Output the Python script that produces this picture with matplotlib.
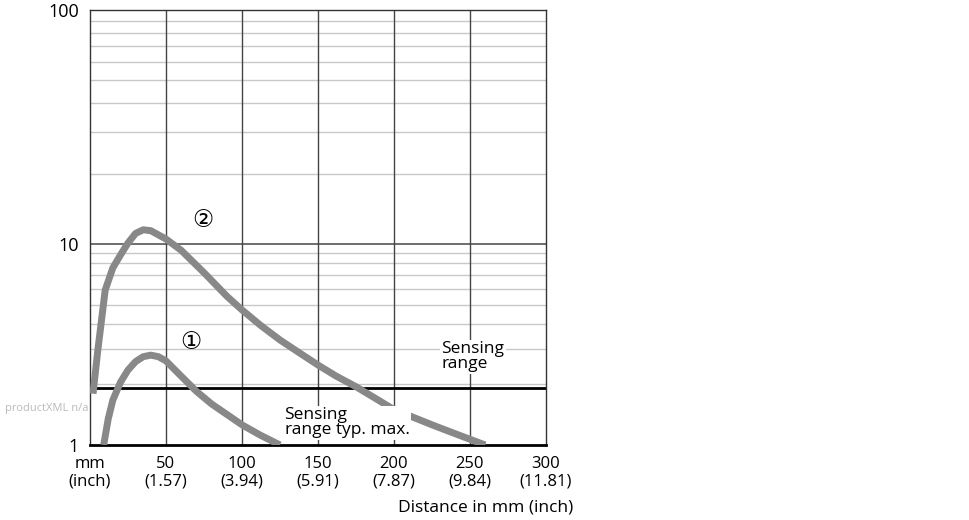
import numpy as np
import matplotlib
matplotlib.use("Agg")
import matplotlib.pyplot as plt

plt.rcParams["font.family"] = "Open Sans"

# curve data (distance mm, value)
x_curve2 = [2, 5, 10, 15, 20, 25, 30, 35, 40, 50, 60, 75, 90, 100, 112, 125, 137, 150, 162, 175, 187, 200, 212, 225, 240, 260]
y_curve2 = [1.8, 2.9, 5.9, 7.6, 8.8, 10.1, 11.1, 11.5, 11.4, 10.5, 9.3, 7.2, 5.5, 4.7, 3.95, 3.33, 2.9, 2.5, 2.2, 1.95, 1.72, 1.5, 1.38, 1.26, 1.14, 1.0]
x_curve1 = [9, 12, 15, 20, 25, 30, 35, 40, 45, 50, 60, 70, 80, 90, 100, 112, 125]
y_curve1 = [1.0, 1.35, 1.67, 2.05, 2.36, 2.6, 2.75, 2.8, 2.75, 2.62, 2.2, 1.85, 1.6, 1.42, 1.26, 1.12, 1.0]
sensing_range = 1.92

x_ticks = [0, 50, 100, 150, 200, 250, 300]
x_labels = ["mm\n(inch)", "50\n(1.57)", "100\n(3.94)", "150\n(5.91)", "200\n(7.87)", "250\n(9.84)", "300\n(11.81)"]
y_ticks = [1, 10, 100]


def fwd(v):
    lv = np.log10(np.clip(v, 1e-6, None))
    return np.where(lv <= 1, lv * 201.0, 201.0 + (lv - 1) * 234.0)


def inv(u):
    u = np.asarray(u, dtype=float)
    return np.where(u <= 201, 10 ** (u / 201.0), 10 ** (1 + (u - 201.0) / 234.0))


fig = plt.figure(figsize=(9.7, 5.2), dpi=100)
ax = fig.add_axes([90 / 970, 1 - 445 / 520, 456 / 970, 435 / 520])
ax.set_yscale("function", functions=(fwd, inv))
ax.set_xlim(0, 300)
ax.set_ylim(1, 100)

minors = [m * d for d in (1, 10) for m in range(2, 10)]
for v in minors:
    ax.axhline(v, color="#c8c8c8", lw=1, zorder=1)
ax.axhline(10, color="#555555", lw=1.2, zorder=1)
for v in x_ticks[1:-1]:
    ax.axvline(v, color="#444444", lw=1, zorder=1)

ax.axhline(sensing_range, color="black", lw=2, zorder=2)
ax.plot(x_curve2, y_curve2, color="#888888", lw=5, solid_capstyle="butt", zorder=3)
ax.plot(x_curve1, y_curve1, color="#888888", lw=5, solid_capstyle="butt", zorder=3)

ax.set_xticks(x_ticks)
ax.set_xticklabels(x_labels, fontsize=12, linespacing=1.1)
ax.set_yticks(y_ticks)
ax.set_yticklabels(["1", "10", "100"], fontsize=13)
ax.yaxis.set_minor_locator(matplotlib.ticker.NullLocator())
ax.tick_params(length=0, pad=8)
for s in ax.spines.values():
    s.set_color("#333333")
    s.set_linewidth(1)
ax.spines["bottom"].set_color("black")
ax.spines["bottom"].set_linewidth(2)

ax.text(74, 12.7, "②", fontsize=17, ha="center", va="center", font="DejaVu Sans")
ax.text(66, 3.25, "①", fontsize=17, ha="center", va="center", font="DejaVu Sans")
ax.text(231, 2.75, "Sensing\nrange", fontsize=12.5, ha="left", va="center", linespacing=0.95,
        bbox=dict(fc="white", ec="none", pad=1))
ax.text(128, 1.29, "Sensing\nrange typ. max.", fontsize=12.5, ha="left", va="center", linespacing=0.95,
        bbox=dict(fc="white", ec="none", pad=1))

fig.text(573 / 970, 1 - 507 / 520, "Distance in mm (inch)", fontsize=12.5, ha="right", va="center")
fig.text(5 / 970, 1 - 408 / 520, "productXML n/a", fontsize=8, color="#bbbbbb", va="center")

fig.savefig("out.png", dpi=100)
